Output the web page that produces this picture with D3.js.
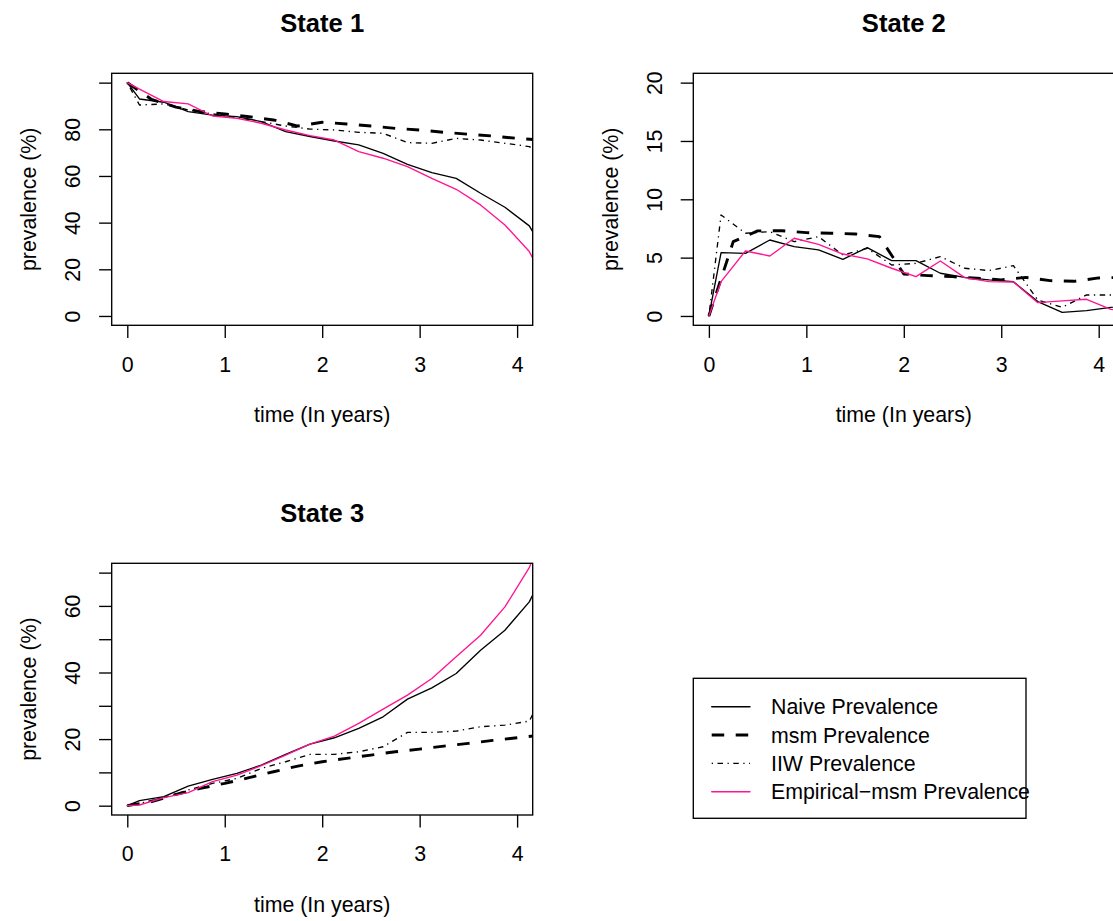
<!DOCTYPE html>
<html>
<head>
<meta charset="utf-8">
<script src="https://cdn.jsdelivr.net/npm/d3@7"></script>
<style>
  body { margin: 0; background: #fff; }
  svg { display: block; }
  text { font-family: "Liberation Sans", Arial, Helvetica, sans-serif; fill: #000; }
</style>
</head>
<body>
<svg id="chart" width="1113" height="921"></svg>
<script>
// Observation times (years) for the naive, IIW and empirical-msm estimates
const timesObs = [0, 0.125, 0.375, 0.625, 0.875, 1.125, 1.375, 1.625, 1.875, 2.125,
                  2.375, 2.625, 2.875, 3.125, 3.375, 3.625, 3.875, 4.125, 4.375];
// Prediction times (years) for the msm estimate
const timesMsm = [0, 0.25, 0.5, 0.75, 1, 1.25, 1.5, 1.75, 2, 2.25,
                  2.5, 2.75, 3, 3.25, 3.5, 3.75, 4, 4.25];

const seriesNames = ["Naive Prevalence", "msm Prevalence", "IIW Prevalence", "Empirical\u2212msm Prevalence"];
const panelTitles = ["State 1", "State 2", "State 3"];

// State 1 prevalence (%)
const naive1 = [100, 93, 91.6, 87.6, 86.1, 85.4, 83.3, 79, 76.9, 75, 73.3, 69.7, 65, 61.4, 59, 52.6, 46.6, 38.6, 21];
const msm1   = [100, 92.8, 89.5, 87.6, 86.6, 85.4, 84, 81.4, 83, 82.3, 81.4, 80.4, 79.7, 78.7, 77.9, 77.1, 76.1, 75.4];
const iiw1   = [100, 90.4, 90.9, 88.3, 86.6, 85, 83.3, 81.4, 80.1, 79.7, 78.7, 78.3, 74.3, 74, 76.1, 75.4, 74, 72.6, 66];
const emp1   = [100, 97.2, 91.9, 90.9, 85.7, 84.7, 82.6, 79.7, 77.3, 75.4, 70.4, 67.6, 64, 59, 54.3, 47.6, 39, 27.6, 8];

// State 2 prevalence (%)
const naive2 = [0, 5.43, 5.37, 6.51, 5.94, 5.66, 4.86, 5.86, 4.74, 4.74, 3.66, 3.31, 3.09, 2.94, 1.23, 0.31, 0.46, 0.74, 0.9];
const msm2   = [0, 6.37, 7.29, 7.31, 7.14, 7.09, 7.03, 6.8, 3.6, 3.46, 3.37, 3.23, 3.09, 3.31, 3.03, 2.97, 3.26, 3.31];
const iiw2   = [0, 8.66, 7.09, 7.23, 6.37, 6.8, 5.23, 5.8, 4.37, 4.51, 5.09, 4.09, 3.89, 4.31, 1.37, 0.74, 1.8, 1.8, 1.8];
const emp2   = [0, 2.94, 5.57, 5.14, 6.66, 6.14, 5.31, 4.89, 4.09, 3.37, 4.71, 3.29, 2.94, 2.91, 1.14, 1.29, 1.43, 0.57, 0.3];

// State 3 prevalence (%)
const naive3 = [0, 1.5, 2.7, 5.9, 7.9, 9.7, 12.2, 15.4, 18.5, 20.4, 23.2, 26.7, 32, 35.4, 39.7, 46.7, 52.7, 61.2, 76];
const msm3   = [0, 1.2, 3.4, 5.2, 6.7, 8.4, 10.2, 11.9, 13.2, 14.2, 15.2, 16.2, 17, 17.9, 18.7, 19.6, 20.4, 21.2];
const iiw3   = [0, 0.7, 2.4, 4.7, 6.7, 8.2, 11.2, 13.2, 15.4, 15.4, 16.2, 17.7, 22, 22, 22.4, 23.7, 24.2, 25.4, 40];
const emp3   = [0, 0.2, 2.4, 3.9, 7.2, 9.2, 12, 15.2, 18.5, 20.9, 24.7, 29, 33.2, 38.2, 44.7, 51.2, 59.7, 71.5, 90];

// Axis ticks
const xTicks = [0, 1, 2, 3, 4];
const xLimits = [0, 4];
const yLimits1 = [0, 100], yTicks1 = [0, 20, 40, 60, 80, 100], yLabels1 = [0, 20, 40, 60, 80];
const yLimits2 = [0, 20],  yTicks2 = [0, 5, 10, 15, 20],      yLabels2 = [0, 5, 10, 15, 20];
const yLimits3 = [0, 70],  yTicks3 = [0, 10, 20, 30, 40, 50, 60, 70], yLabels3 = [0, 20, 40, 60];

// Line styles, in series order
const styles = [
  { color: "#000000", width: 1.35, dash: null,           cap: "round" },
  { color: "#000000", width: 2.9,  dash: "12.5,11.5",    cap: "butt"  },
  { color: "#000000", width: 1.35, dash: "1.3,4.5,5.5,4.5", cap: "butt" },
  { color: "#FF1493", width: 1.35, dash: null,           cap: "round" }
];

const BASE_FONT = 21.33;
const svg = d3.select("#chart");

const panels = [
  { title: panelTitles[0], box: [111.7, 73.3, 532.7, 325.3],  ylim: yLimits1, yTicks: yTicks1, yLabels: yLabels1,
    series: [naive1, msm1, iiw1, emp1] },
  { title: panelTitles[1], box: [693.3, 73.3, 1114.3, 325.3], ylim: yLimits2, yTicks: yTicks2, yLabels: yLabels2,
    series: [naive2, msm2, iiw2, emp2] },
  { title: panelTitles[2], box: [111.7, 563.3, 532.7, 815.0], ylim: yLimits3, yTicks: yTicks3, yLabels: yLabels3,
    series: [naive3, msm3, iiw3, emp3] }
];

// R-style 4% axis extension
function extend(lim) {
  const d = (lim[1] - lim[0]) * 0.04;
  return [lim[0] - d, lim[1] + d];
}

panels.forEach((p, i) => {
  const [L, T, R, B] = p.box;
  const x = d3.scaleLinear().domain(extend(xLimits)).range([L, R]);
  const y = d3.scaleLinear().domain(extend(p.ylim)).range([B, T]);
  const g = svg.append("g");

  const clipId = "clip" + i;
  svg.append("clipPath").attr("id", clipId)
    .append("rect").attr("x", L).attr("y", T).attr("width", R - L).attr("height", B - T);

  // series lines
  const line = d3.line().x(d => x(d[0])).y(d => y(d[1]));
  const lineG = g.append("g").attr("clip-path", `url(#${clipId})`);
  const order = [0, 1, 2, 3];
  order.forEach(k => {
    const vals = p.series[k];
    const times = k === 1 ? timesMsm : timesObs;
    const pts = vals.map((v, j) => [times[j], v]);
    const st = styles[k];
    lineG.append("path")
      .attr("d", line(pts))
      .attr("fill", "none")
      .attr("stroke", st.color)
      .attr("stroke-width", st.width)
      .attr("stroke-linejoin", "round")
      .attr("stroke-linecap", st.cap)
      .attr("stroke-dasharray", st.dash);
  });

  // x axis
  const xa = g.append("g").attr("transform", `translate(0,${B})`)
    .call(d3.axisBottom(x).tickValues(xTicks).tickSize(12.6).tickSizeOuter(0).tickFormat(d3.format("d")));
  xa.select(".domain").remove();
  xa.selectAll("line").attr("stroke", "#000").attr("stroke-width", 1.35);
  xa.selectAll("text")
    .attr("y", 46.4).attr("dy", 0)
    .attr("font-size", BASE_FONT)
    .attr("font-family", '"Liberation Sans", Arial, sans-serif')
    .attr("fill", "#000");

  // y axis
  const ya = g.append("g").attr("transform", `translate(${L},0)`)
    .call(d3.axisLeft(y).tickValues(p.yTicks).tickSize(12.6).tickSizeOuter(0)
      .tickFormat(d => p.yLabels.includes(d) ? String(d) : ""));
  ya.select(".domain").remove();
  ya.selectAll("line").attr("stroke", "#000").attr("stroke-width", 1.35);
  ya.selectAll("text")
    .attr("transform", "rotate(-90)")
    .attr("x", 0).attr("y", -31.7).attr("dy", 0)
    .attr("text-anchor", "middle")
    .attr("font-size", BASE_FONT)
    .attr("font-family", '"Liberation Sans", Arial, sans-serif')
    .attr("fill", "#000");

  // plot box
  g.append("rect")
    .attr("x", L).attr("y", T).attr("width", R - L).attr("height", B - T)
    .attr("fill", "none").attr("stroke", "#000").attr("stroke-width", 1.35);

  const cx = (L + R) / 2, cy = (T + B) / 2;

  // title
  g.append("text")
    .attr("x", cx).attr("y", T - 41.8)
    .attr("text-anchor", "middle")
    .attr("font-size", BASE_FONT * 1.2)
    .attr("font-weight", "bold")
    .text(p.title);

  // axis titles
  g.append("text")
    .attr("x", cx).attr("y", B + 96.7)
    .attr("text-anchor", "middle")
    .attr("font-size", BASE_FONT)
    .text("time (In years)");

  g.append("text")
    .attr("transform", `translate(${L - 75.7},${cy}) rotate(-90)`)
    .attr("text-anchor", "middle")
    .attr("font-size", BASE_FONT)
    .text("prevalence (%)");
});

// legend
const leg = svg.append("g");
leg.append("rect")
  .attr("x", 693.3).attr("y", 678.3).attr("width", 1026 - 693.3).attr("height", 818.3 - 678.3)
  .attr("fill", "none").attr("stroke", "#000").attr("stroke-width", 1.35);

const rowY = d3.scaleLinear().domain([0, 3]).range([706.7, 791.7]);
seriesNames.forEach((name, k) => {
  const st = styles[k];
  leg.append("line")
    .attr("x1", 711.7).attr("x2", 750)
    .attr("y1", rowY(k)).attr("y2", rowY(k))
    .attr("stroke", st.color)
    .attr("stroke-width", st.width)
    .attr("stroke-linecap", st.cap)
    .attr("stroke-dasharray", st.dash);
  leg.append("text")
    .attr("x", 771).attr("y", rowY(k)).attr("dy", "0.36em")
    .attr("font-size", BASE_FONT)
    .text(name);
});
</script>
</body>
</html>
